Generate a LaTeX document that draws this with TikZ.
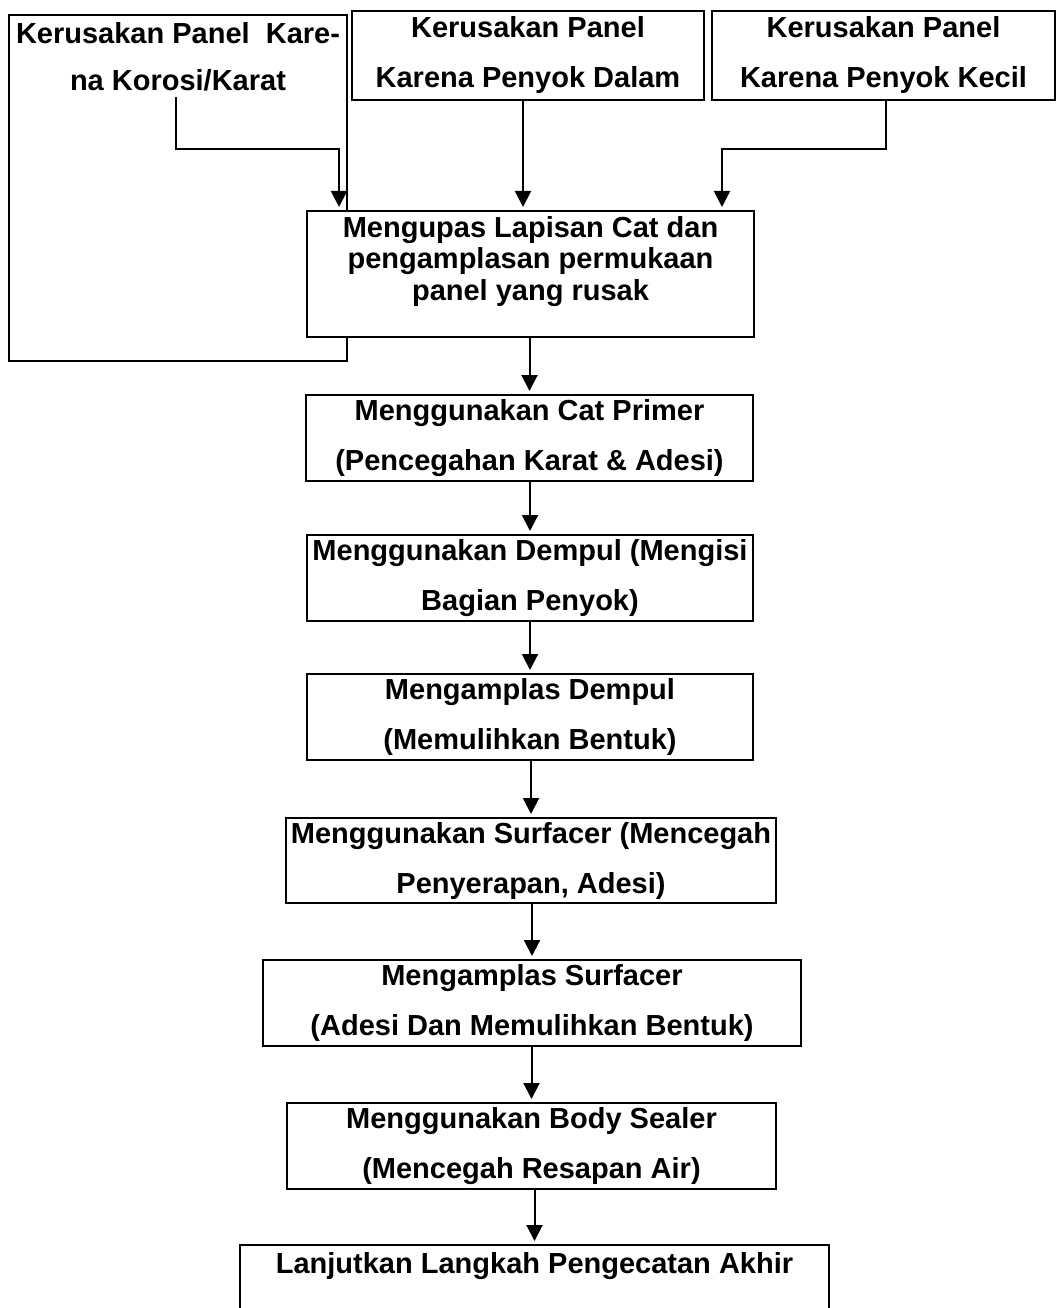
\documentclass[tikz,border=0pt]{standalone}
\usepackage{fontspec}
\setmainfont{Liberation Sans}
\usetikzlibrary{arrows.meta}
\begin{document}
\begin{tikzpicture}[x=1pt,y=-1pt,
  box/.style={draw, line width=2pt, fill=white, inner sep=0pt, align=center, anchor=north west,
    font=\bfseries\fontsize{29}{50}\selectfont},
  toptext/.style={anchor=north, align=center, inner sep=0pt},
  conn/.style={line width=2pt, shorten >=3pt, -{Triangle[width=16pt,length=16pt]}}
]
\clip (0,0) rectangle (1057,1308);
\fill[white] (0,0) rectangle (1057,1308);

\node[box, minimum width=338pt, minimum height=346pt,
  label={[toptext, yshift=-8pt, font=\bfseries\fontsize{29}{47}\selectfont]north:{Kerusakan Panel\ \ Kare-\\na Korosi/Karat}}] (A) at (8,14) {};
\node[box, minimum width=352pt, minimum height=89pt] (B) at (351,10) {Kerusakan Panel\\Karena Penyok Dalam};
\node[box, minimum width=343pt, minimum height=89pt] (C) at (711,10) {Kerusakan Panel\\Karena Penyok Kecil};
\node[box, minimum width=447pt, minimum height=126pt,
  label={[toptext, yshift=-6pt, font=\bfseries\fontsize{29}{31.5}\selectfont]north:{Mengupas Lapisan Cat dan\\pengamplasan permukaan\\panel yang rusak}}] (M) at (306,210) {};
\node[box, minimum width=447pt, minimum height=86pt] (P) at (305,394) {Menggunakan Cat Primer\\(Pencegahan Karat \& Adesi)};
\node[box, minimum width=446pt, minimum height=86pt] (D) at (306,534) {Menggunakan Dempul (Mengisi\\Bagian Penyok)};
\node[box, minimum width=446pt, minimum height=86pt] (MD) at (306,673) {Mengamplas Dempul\\(Memulihkan Bentuk)};
\node[box, minimum width=490pt, minimum height=85pt] (S) at (285,817) {Menggunakan Surfacer (Mencegah\\Penyerapan, Adesi)};
\node[box, minimum width=538pt, minimum height=86pt] (MS) at (262,959) {Mengamplas Surfacer\\(Adesi Dan Memulihkan Bentuk)};
\node[box, minimum width=489pt, minimum height=86pt] (BS) at (286,1102) {Menggunakan Body Sealer\\(Mencegah Resapan Air)};
\node[box, minimum width=589pt, minimum height=100pt,
  label={[toptext, yshift=-8pt, font=\bfseries\fontsize{29}{30}\selectfont]north:{Lanjutkan Langkah Pengecatan Akhir}}] (L) at (239,1244) {};

\coordinate (a0) at (176,97);
\coordinate (aj) at (339,149);
\coordinate (cj) at (722,149);
\draw[conn] (a0) |- (aj) -- (aj |- M.north);
\draw[conn] ([xshift=-5pt]B.south) -- ([xshift=-5pt]B.south |- M.north);
\draw[conn] ([xshift=2pt]C.south) |- (cj) -- (cj |- M.north);
\draw[conn] (M.south -| P.north) -- (P.north);
\draw[conn] (P.south -| D.north) -- (D.north);
\draw[conn] (D.south -| MD.north) -- (MD.north);
\draw[conn] (MD.south -| S.north) -- (S.north);
\draw[conn] (S.south -| MS.north) -- (MS.north);
\draw[conn] (MS.south -| BS.north) -- (BS.north);
\draw[conn] (BS.south -| L.north) -- (L.north);
\end{tikzpicture}
\end{document}
